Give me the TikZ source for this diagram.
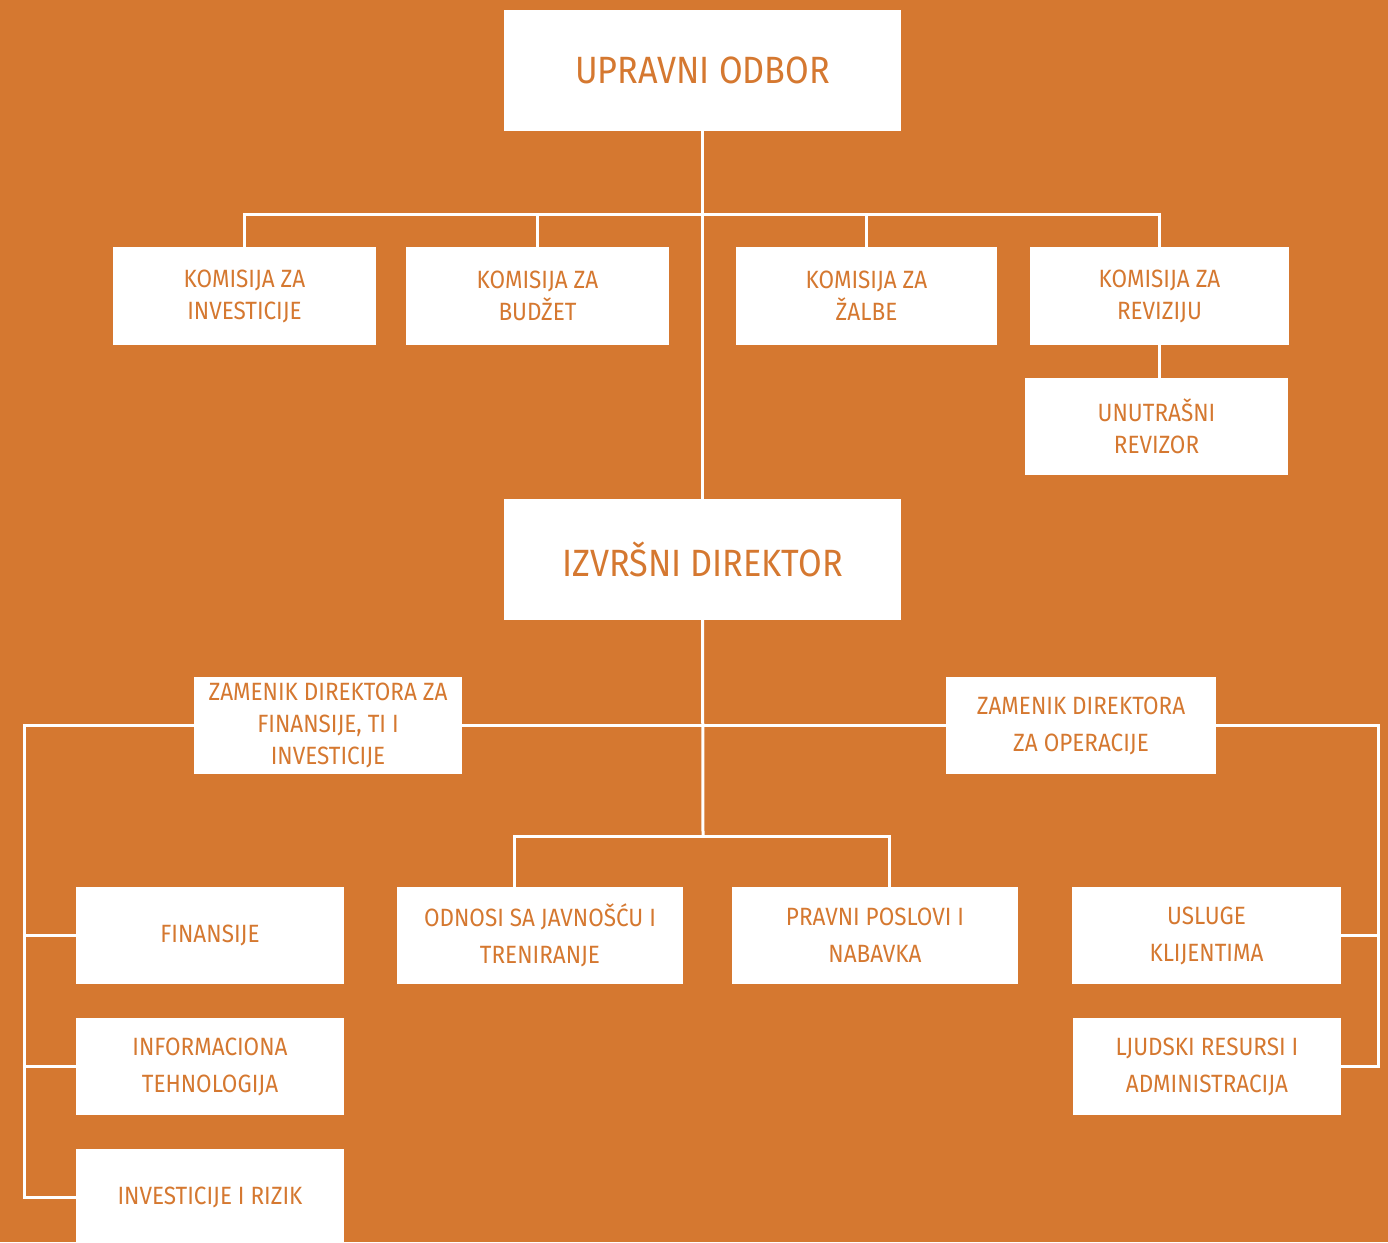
\documentclass[tikz,border=0pt]{standalone}
\usepackage{fontspec}
\setmainfont{Fira Sans}[FakeStretch=0.9]
\definecolor{narandza}{HTML}{D57830}
\begin{document}
\begin{tikzpicture}[x=1pt,y=-1pt,
    kutija/.style={fill=white,text=narandza,align=center,inner sep=0pt},
    velika/.style={kutija,minimum width=397,minimum height=121,font=\fontsize{38}{42}\selectfont},
    mala/.style={kutija,minimum height=97,font=\fontsize{25}{32}\selectfont},
    donja/.style={mala,font=\fontsize{25}{37}\selectfont},
    veza/.style={draw=white,line width=3pt}]
  \fill[narandza] (0,0) rectangle (1388,1242);
  \useasboundingbox (0,0) rectangle (1388,1242);
  \clip (0,0) rectangle (1388,1242);
  % boxes
  \node[velika] (up) at (702.5,70.5) {UPRAVNI ODBOR};
  \node[mala,minimum width=263,minimum height=98] (kinv) at (244.5,296) {KOMISIJA ZA\\INVESTICIJE};
  \node[mala,minimum width=263,minimum height=98] (kbud) at (537.5,296) {KOMISIJA ZA\\BUDŽET};
  \node[mala,minimum width=261,minimum height=98] (kzal) at (866.5,296) {KOMISIJA ZA\\ŽALBE};
  \node[mala,minimum width=259,minimum height=98] (krev) at (1159.5,296) {KOMISIJA ZA\\REVIZIJU};
  \node[mala,minimum width=263] (unr) at (1156.5,426.5) {UNUTRAŠNI\\REVIZOR};
  \node[velika] (iz) at (702.5,559.5) {IZVRŠNI DIREKTOR};
  \node[mala,minimum width=268] (zf) at (328,725.5) {ZAMENIK DIREKTORA ZA\\FINANSIJE, TI I\\INVESTICIJE};
  \node[donja,minimum width=270] (zo) at (1081,725.5) {ZAMENIK DIREKTORA\\ZA OPERACIJE};
  \node[mala,minimum width=268] (fin) at (210,935.5) {FINANSIJE};
  \node[donja,minimum width=268] (itn) at (210,1066.5) {INFORMACIONA\\TEHNOLOGIJA};
  \node[mala,minimum width=268] (inv) at (210,1197.5) {INVESTICIJE I RIZIK};
  \node[donja,minimum width=286] (odn) at (540,935.5) {ODNOSI SA JAVNOŠĆU I\\TRENIRANJE};
  \node[donja,minimum width=286] (prv) at (875,935.5) {PRAVNI POSLOVI I\\NABAVKA};
  \node[donja,minimum width=269] (usl) at (1206.5,935.5) {USLUGE\\KLIJENTIMA};
  \node[donja,minimum width=268] (ljr) at (1207,1066.5) {LJUDSKI RESURSI I\\ADMINISTRACIJA};
  % bus points
  \coordinate (tb) at (703,214);
  \coordinate (cb) at (703,836);
  \coordinate (lx) at (24,0);
  \coordinate (rx) at (1378,0);
  \begin{scope}[veza]
    \draw (up) to (iz);
    \draw (kinv.north) |- (tb) -| (krev.north);
    \draw (kbud.north) to (kbud.north |- tb);
    \draw (kzal.north) to (kzal.north |- tb);
    \draw (krev.south) to (krev.south |- unr.north);
    \draw (iz.south) to (cb);
    \draw (zf.east) to (zo.west);
    \draw ([xshift=-26]odn.north) |- (cb) -| ([xshift=14]prv.north);
    \draw (zf.west) -| (lx |- inv.west) to (inv.west);
    \draw (fin.west) to (lx |- fin.west);
    \draw (itn.west) to (lx |- itn.west);
    \draw (zo.east) -| (rx |- ljr.east) to (ljr.east);
    \draw (usl.east) to (rx |- usl.east);
  \end{scope}
\end{tikzpicture}
\end{document}
